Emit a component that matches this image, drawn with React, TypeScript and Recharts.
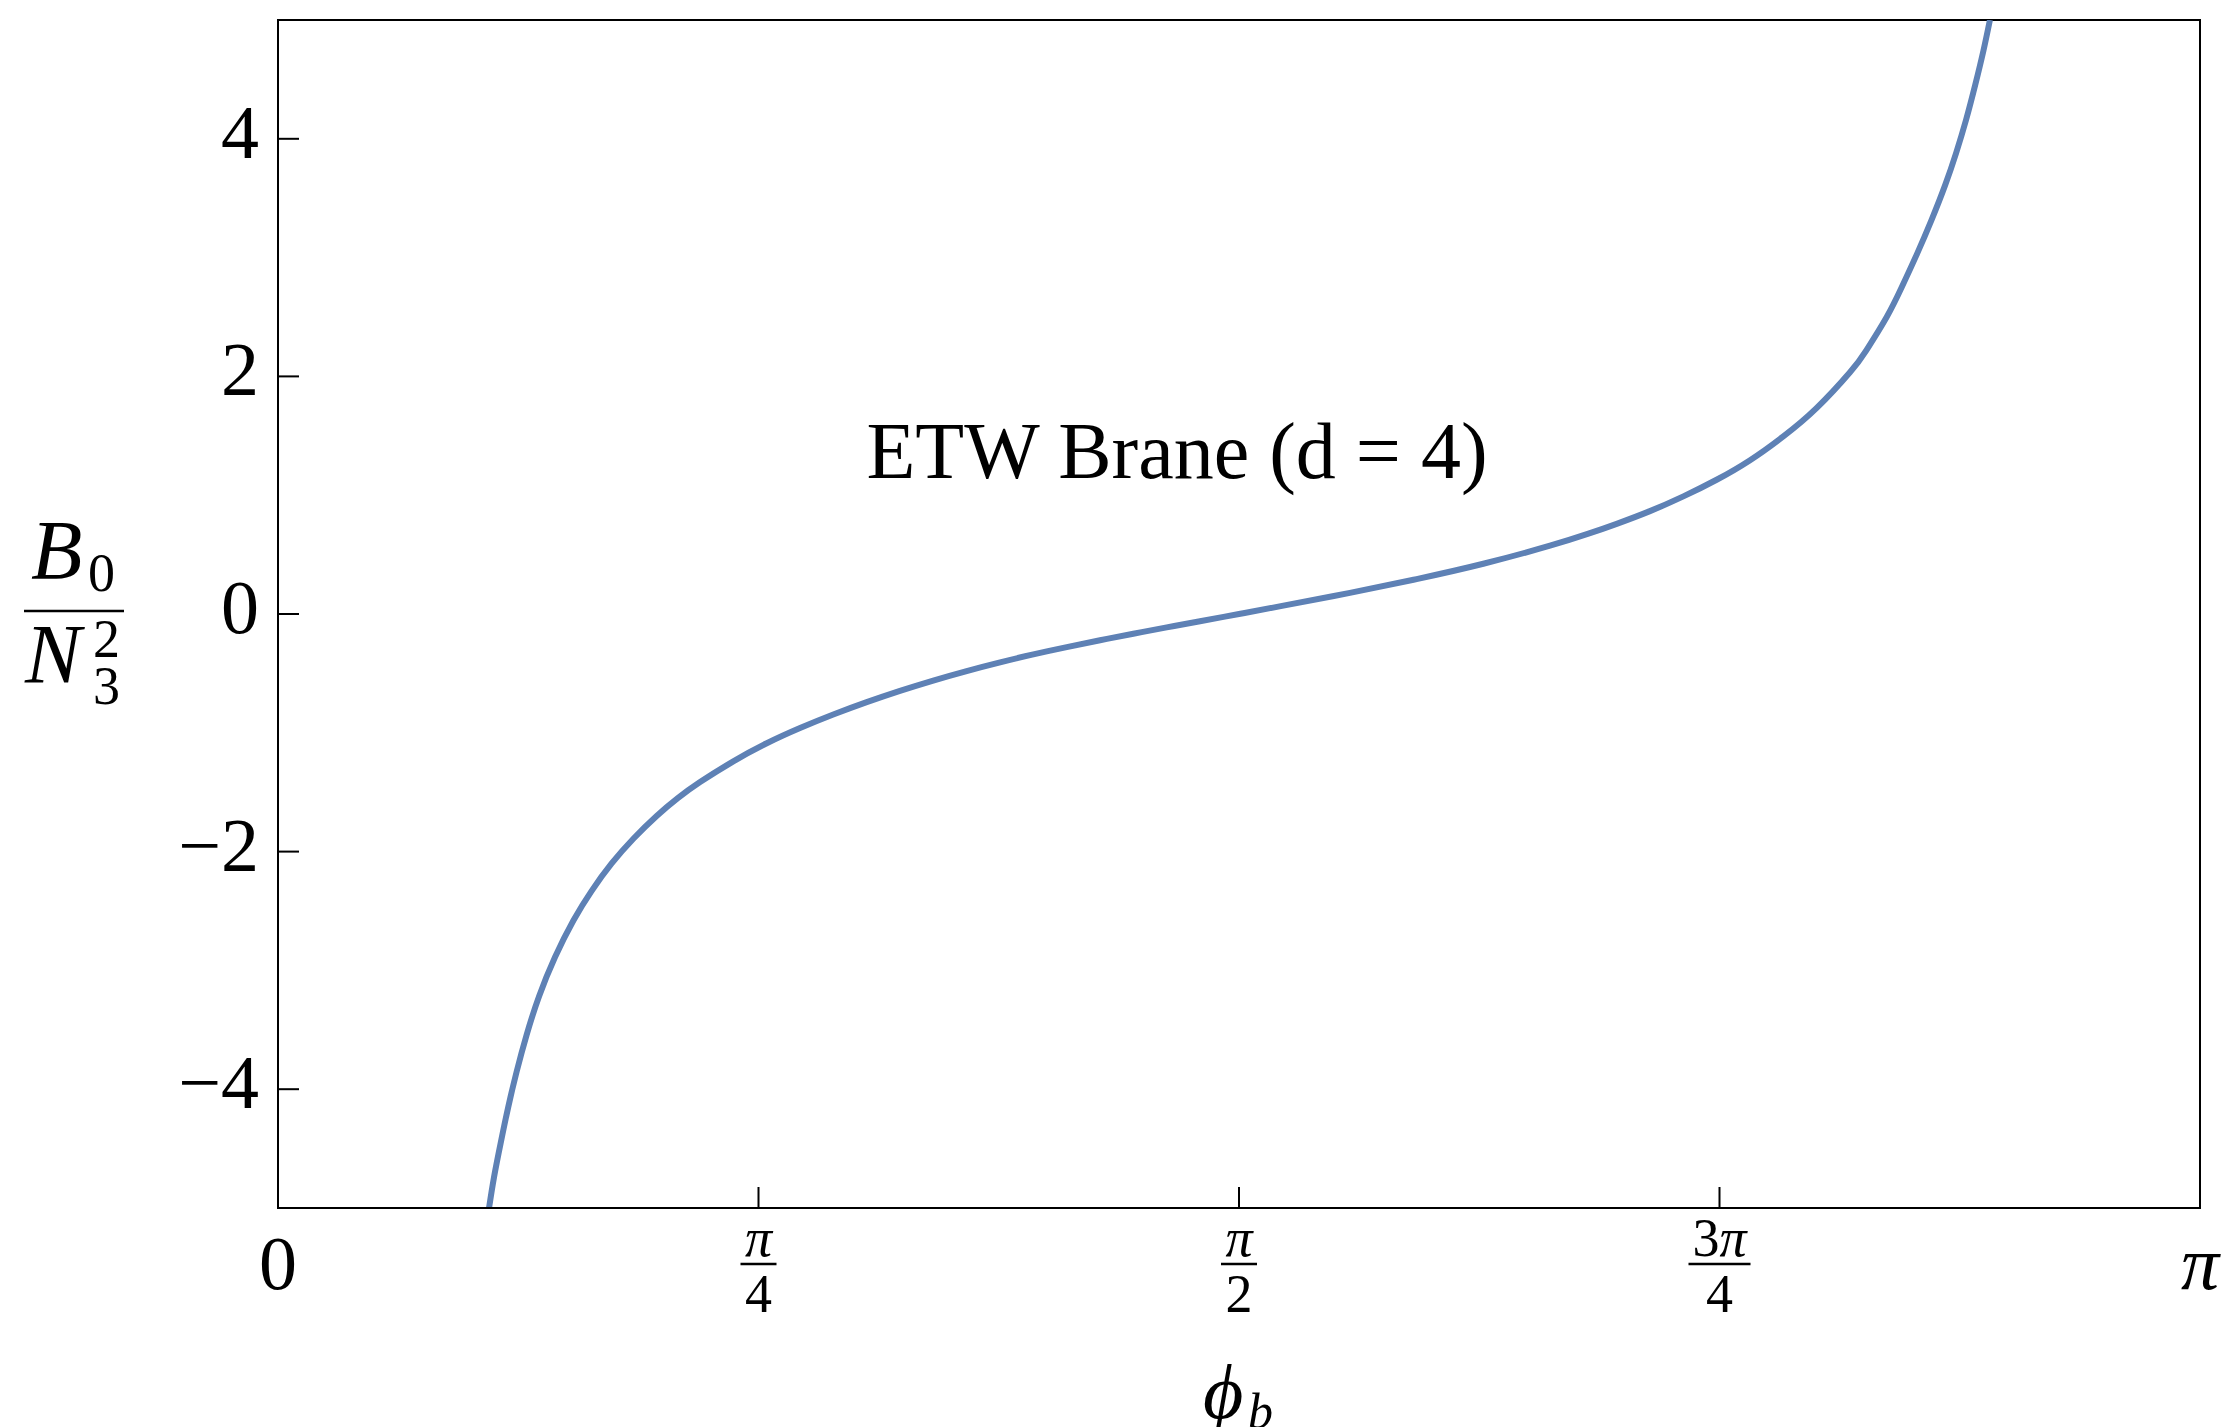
import React from 'react';
import { LineChart, Line, XAxis, YAxis, ReferenceArea } from 'recharts';

// phi_b in units of pi
const phiOverPi = [
  0.1098, 0.1124, 0.1159, 0.1198, 0.1242, 0.1294, 0.1358, 0.1441, 0.1537, 0.1632,
  0.1736, 0.185, 0.197, 0.208, 0.2196, 0.2369, 0.2543, 0.2716, 0.2889, 0.3063,
  0.3236, 0.3409, 0.3583, 0.3757, 0.393, 0.4104, 0.4277, 0.445, 0.4624, 0.4797,
  0.5, 0.5224, 0.5577, 0.5924, 0.6271, 0.6618, 0.6818, 0.6965, 0.7138, 0.7312,
  0.7485, 0.7659, 0.7832, 0.8006, 0.8179, 0.8264, 0.837, 0.8448, 0.8526, 0.8604,
  0.8674, 0.8731, 0.8783, 0.883, 0.8873, 0.8907,
];
// B0 / N3^2
const b0 = [
  -5.0, -4.74, -4.45, -4.15, -3.85, -3.54, -3.22, -2.89, -2.58, -2.33,
  -2.1, -1.89, -1.7, -1.55, -1.415, -1.24, -1.088, -0.96, -0.846, -0.742,
  -0.647, -0.56, -0.48, -0.407, -0.34, -0.279, -0.221, -0.166, -0.113, -0.061,
  0.0, 0.068, 0.178, 0.294, 0.423, 0.575, 0.676, 0.759, 0.866, 0.99,
  1.13, 1.295, 1.495, 1.735, 2.035, 2.22, 2.5, 2.75, 3.025, 3.32,
  3.61, 3.88, 4.16, 4.45, 4.74, 5.0,
];

const xTicks = [0, 0.25, 0.5, 0.75, 1];
const xTickNumDigit = ['0', '', '', '3', ''];
const xTickNumPi = ['', 'π', 'π', 'π', 'π'];
const xTickDen = ['', '4', '2', '4', ''];
const yTicks = [-4, -2, 0, 2, 4];
const yTickLabels = ['−4', '−2', '0', '2', '4'];
const title = 'ETW Brane (d = 4)';

const data = phiOverPi.map((x, i) => ({ x, y: b0[i] }));

const FONT = '"Liberation Serif", "DejaVu Serif", "Times New Roman", serif';
const W = 2223;
const H = 1427;

const XTick = (props: any) => {
  const { x, y, payload } = props;
  const i = xTicks.indexOf(payload.value);
  const digit = xTickNumDigit[i];
  const pi = xTickNumPi[i];
  const den = xTickDen[i];
  const showMark = i > 0 && i < xTicks.length - 1;
  const barW = digit && pi ? 62 : 36;
  return (
    <g>
      {showMark && <line x1={x} x2={x} y1={y} y2={y - 21} stroke="#000" strokeWidth={2} />}
      {den ? (
        <g fontFamily={FONT} fill="#000">
          <text x={x} y={y + 48} textAnchor="middle" fontSize={54}>
            {digit && <tspan>{digit}</tspan>}
            <tspan fontStyle="italic">{pi}</tspan>
          </text>
          <line x1={x - barW / 2} x2={x + barW / 2} y1={y + 56} y2={y + 56} stroke="#000" strokeWidth={2.5} />
          <text x={x} y={y + 104} textAnchor="middle" fontSize={54}>
            {den}
          </text>
        </g>
      ) : (
        <text x={x} y={y + 81} textAnchor="middle" fontSize={76} fontFamily={FONT} fill="#000" fontStyle={pi ? 'italic' : 'normal'}>
          {digit || pi}
        </text>
      )}
    </g>
  );
};

const YTick = (props: any) => {
  const { x, y, payload } = props;
  const i = yTicks.indexOf(payload.value);
  return (
    <g>
      <line x1={x} x2={x + 21} y1={y} y2={y} stroke="#000" strokeWidth={2} />
      <text x={x - 19} y={y + 19} textAnchor="end" fontSize={76} fontFamily={FONT} fill="#000">
        {yTickLabels[i]}
      </text>
    </g>
  );
};

const YLabel = () => (
  <g fontFamily={FONT} fill="#000">
    <text x={31} y={579} fontSize={84} fontStyle="italic">B</text>
    <text x={88} y={591} fontSize={54}>0</text>
    <line x1={24} x2={124} y1={611} y2={611} stroke="#000" strokeWidth={2.5} />
    <text x={25} y={683} fontSize={84} fontStyle="italic">N</text>
    <text x={93} y={657} fontSize={54}>2</text>
    <text x={93} y={704} fontSize={54}>3</text>
  </g>
);

const XLabel = () => (
  <g fontFamily={FONT} fill="#000">
    <text x={1203} y={1418} fontSize={78} fontStyle="italic">ϕ</text>
    <text x={1248} y={1428} fontSize={50} fontStyle="italic">b</text>
    <text x={1177} y={478} fontSize={80} textAnchor="middle">{title}</text>
  </g>
);

export default function App() {
  return (
    <div style={{ position: 'fixed', left: 0, top: 0, width: W, height: H, background: '#fff' }}>
      <LineChart width={W} height={H} data={data} margin={{ top: 20, right: 23, bottom: 0, left: 0 }}>
        <ReferenceArea x1={0} x2={1} y1={-5} y2={5} fill="none" stroke="#000" strokeWidth={2} ifOverflow="visible" />
        <XAxis
          dataKey="x"
          type="number"
          domain={[0, 1]}
          ticks={xTicks}
          interval={0}
          height={219}
          tickSize={0}
          tickMargin={0}
          tickLine={false}
          axisLine={{ stroke: '#000', strokeWidth: 2 }}
          tick={<XTick />}
          label={{ content: <XLabel /> }}
          allowDataOverflow
        />
        <YAxis
          type="number"
          domain={[-5, 5]}
          ticks={yTicks}
          interval={0}
          width={278}
          tickSize={0}
          tickMargin={0}
          tickLine={false}
          axisLine={{ stroke: '#000', strokeWidth: 2 }}
          tick={<YTick />}
          label={{ content: <YLabel /> }}
          allowDataOverflow
        />
        <Line
          type="natural"
          dataKey="y"
          stroke="#5E81B5"
          strokeWidth={6}
          dot={false}
          activeDot={false}
          isAnimationActive={false}
        />
      </LineChart>
    </div>
  );
}
